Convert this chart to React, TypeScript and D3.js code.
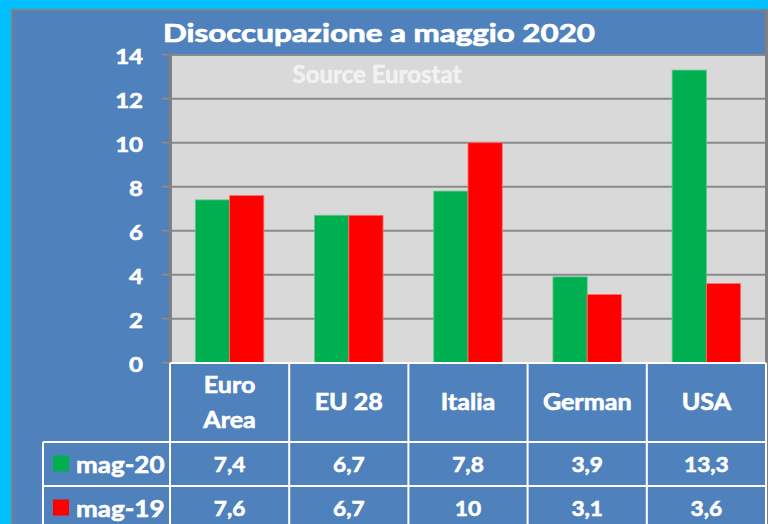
import React from "react";
import * as d3 from "d3";

const categories = ["Euro Area", "EU 28", "Italia", "German", "USA"];
const seriesNames = ["mag-20", "mag-19"];
const mag20 = [7.4, 6.7, 7.8, 3.9, 13.3];
const mag19 = [7.6, 6.7, 10, 3.1, 3.6];
const yTicks = [0, 2, 4, 6, 8, 10, 12, 14];
const title = "Disoccupazione a maggio 2020";
const subtitle = "Source Eurostat";

const W = 768;
const H = 524;
const FONT = "Lato, 'Open Sans', sans-serif";
const BLUE = "#4F81BD";
const GREEN = "#00B050";
const RED = "#FF0000";

const fmt = d3.formatLocale({ decimal: ",", thousands: ".", grouping: [3], currency: ["", "€"] }).format(".1~f");

type TProps = {
  x: number;
  y: number;
  sx?: number;
  size: number;
  anchor?: "start" | "middle" | "end";
  fill?: string;
  children: React.ReactNode;
};

function T({ x, y, sx = 1, size, anchor = "start", fill = "#ffffff", children }: TProps) {
  return (
    <text
      transform={`translate(${x},${y}) scale(${sx},1)`}
      textAnchor={anchor}
      dominantBaseline="central"
      fill={fill}
      stroke={fill}
      strokeWidth={0.6}
      fontWeight="bold"
      fontSize={size}
    >
      {children}
    </text>
  );
}

export default function App() {
  const plotLeft = 171;
  const plotRight = 765;
  const plotTop = 55;
  const plotBottom = 362.7;
  const tableTop = 363;
  const row1Top = 442;
  const row2Top = 486;
  const legendLeft = 43;

  const x = d3.scaleBand<string>().domain(categories).range([170, 766]).paddingInner(0).paddingOuter(0);
  const x1 = d3.scaleBand<string>().domain(seriesNames).range([0, x.bandwidth()]).paddingInner(0).paddingOuter(0.74);
  const y = d3.scaleLinear().domain([0, 14]).range([plotBottom, 54.7]);

  const series = [
    { name: seriesNames[0], values: mag20, color: GREEN },
    { name: seriesNames[1], values: mag19, color: RED },
  ];

  const colEdges = categories.map((c) => x(c)!).concat([766]);

  return (
    <div style={{ position: "absolute", left: 0, top: 0 }}>
      <svg width={W} height={H} style={{ display: "block" }} fontFamily={FONT}>
        <rect x={0} y={0} width={W} height={H} fill="#00BFFF" />
        {/* outer chart area */}
        <rect x={12} y={10} width={754} height={H} fill={BLUE} stroke="#808080" strokeWidth={2} />
        {/* plot area */}
        <rect x={plotLeft} y={plotTop} width={plotRight - plotLeft} height={plotBottom - plotTop} fill="#D9D9D9" />
        <line x1={plotLeft} x2={plotRight} y1={plotTop} y2={plotTop} stroke="#8a8a8a" strokeWidth={2} />
        {/* gridlines */}
        {yTicks.map((t) => (
          <g key={t}>
            {t !== 0 && t !== 14 && (
              <line x1={plotLeft} x2={plotRight} y1={y(t)} y2={y(t)} stroke="#8a8a8a" strokeWidth={2} />
            )}
            <line x1={162} x2={171} y1={y(t)} y2={y(t)} stroke="#8a8a8a" strokeWidth={2} />
            <T x={143} y={y(t) + 1.5} sx={1.17} size={20.5} anchor="end">
              {t}
            </T>
          </g>
        ))}
        {/* bars */}
        {series.map((s) =>
          categories.map((c, i) => (
            <rect
              key={s.name + c}
              x={x(c)! + x1(s.name)!}
              y={y(s.values[i])}
              width={x1.bandwidth()}
              height={y(0) - y(s.values[i])}
              fill={s.color}
              stroke={s.color === GREEN ? "#5cc78a" : "#ff7070"}
              strokeWidth={0.8}
            />
          ))
        )}
        {/* y axis line */}
        <line x1={170.5} x2={170.5} y1={plotTop - 1} y2={plotBottom + 1} stroke="#808080" strokeWidth={3} />
        {/* right border */}
        <line x1={766.5} x2={766.5} y1={10} y2={H} stroke="#808080" strokeWidth={3} />

        {/* title */}
        <text
          x={163}
          y={41.5}
          fill="#ffffff"
          stroke="#ffffff"
          strokeWidth={0.7}
          fontWeight="bold"
          fontSize={24.5}
          textLength={432}
          lengthAdjust="spacingAndGlyphs"
        >
          {title}
        </text>
        <T x={377} y={73} size={24} anchor="middle" fill="#F2F2F2">
          {subtitle}
        </T>

        {/* data table */}
        <g stroke="#ffffff" strokeWidth={2}>
          <line x1={170} x2={766} y1={tableTop} y2={tableTop} />
          <line x1={legendLeft} x2={766} y1={row1Top} y2={row1Top} />
          <line x1={legendLeft} x2={766} y1={row2Top} y2={row2Top} />
          <line x1={legendLeft} x2={legendLeft} y1={row1Top} y2={H} />
          {colEdges.map((e, i) => (
            <line key={i} x1={e} x2={e} y1={tableTop} y2={H} />
          ))}
        </g>
        {categories.map((c) => {
          const cx = x(c)! + x.bandwidth() / 2;
          const parts = c === "Euro Area" ? c.split(" ") : [c];
          const midY = (tableTop + row1Top) / 2 - 0.5;
          return (
            <g key={c}>
              {parts.map((p, j) => (
                <T key={j} x={cx} y={midY + (j - (parts.length - 1) / 2) * 35} sx={1.14} size={22} anchor="middle">
                  {p}
                </T>
              ))}
            </g>
          );
        })}
        {series.map((s, si) => {
          const top = si === 0 ? row1Top : row2Top;
          const cy = top + 22;
          return (
            <g key={s.name}>
              <rect x={53} y={cy - 8.5} width={16} height={16} fill={s.color} />
              <T x={76} y={cy} sx={1.13} size={23}>
                {s.name}
              </T>
              {categories.map((c, i) => (
                <T key={c} x={x(c)! + x.bandwidth() / 2} y={cy} sx={1.08} size={21} anchor="middle">
                  {fmt(s.values[i])}
                </T>
              ))}
            </g>
          );
        })}
      </svg>
    </div>
  );
}
